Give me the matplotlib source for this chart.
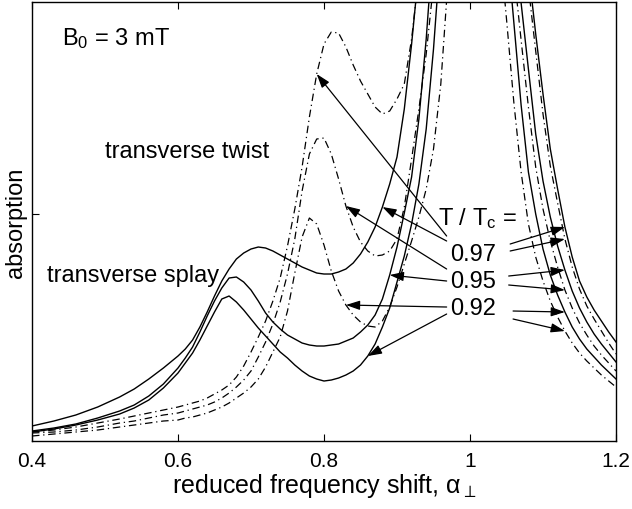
import numpy as np
import matplotlib
matplotlib.use('Agg')
import matplotlib.pyplot as plt

plt.rcParams['font.family'] = ['Liberation Sans', 'DejaVu Sans']
plt.rcParams['mathtext.fontset'] = 'custom'
plt.rcParams['mathtext.rm'] = 'Liberation Sans'
plt.rcParams['mathtext.it'] = 'Liberation Sans'

nan = np.nan

# reduced frequency shift (the grid the curves were read on)
alpha = [0.40, 0.43, 0.46, 0.49, 0.52, 0.54, 0.56, 0.58,
         0.60, 0.61, 0.62, 0.63, 0.64, 0.65, 0.66, 0.67, 0.68, 0.69,
         0.70, 0.71, 0.72, 0.73, 0.74, 0.75, 0.76, 0.77, 0.78, 0.79,
         0.80, 0.81, 0.82, 0.83, 0.84, 0.85, 0.86, 0.87, 0.88, 0.89,
         0.90, 0.91, 0.92, 0.93, 0.94, 0.95, 0.96, 0.97,
         1.04, 1.05, 1.06, 1.07, 1.08, 1.09,
         1.10, 1.11, 1.12, 1.13, 1.14, 1.15, 1.16, 1.17, 1.18, 1.19, 1.20]

# transverse splay (solid), arbitrary units
splay_097 = [0.15, 0.20, 0.26, 0.34, 0.44, 0.52, 0.62, 0.73,
             0.85, 0.92, 1.01, 1.14, 1.29, 1.45, 1.60, 1.72, 1.82, 1.88,
             1.92, 1.94, 1.93, 1.90, 1.86, 1.82, 1.78, 1.74, 1.71, 1.68,
             1.67, 1.67, 1.69, 1.72, 1.78, 1.87, 1.99, 2.14, 2.34, 2.57,
             2.84, 3.32, 3.97, 4.72, nan, nan, nan, nan,
             nan, nan, nan, nan, 4.72, 4.07,
             3.47, 2.92, 2.52, 2.14, 1.84, 1.60, 1.44, 1.31, 1.20, 1.09, 0.99]
splay_095 = [0.10, 0.13, 0.17, 0.23, 0.30, 0.36, 0.45, 0.57,
             0.73, 0.83, 0.94, 1.09, 1.25, 1.40, 1.53, 1.63, 1.64, 1.59,
             1.51, 1.40, 1.28, 1.19, 1.12, 1.06, 1.02, 0.98, 0.96, 0.95,
             0.95, 0.96, 0.97, 1.00, 1.03, 1.09, 1.16, 1.26, 1.42, 1.66,
             1.94, 2.28, 2.64, 3.22, 4.02, 5.02, nan, nan,
             nan, nan, 5.02, 4.38, 3.72, 3.07,
             2.60, 2.24, 1.95, 1.71, 1.50, 1.33, 1.19, 1.07, 0.97, 0.88, 0.79]
splay_092 = [0.09, 0.12, 0.16, 0.21, 0.27, 0.33, 0.41, 0.53,
             0.68, 0.78, 0.88, 1.01, 1.15, 1.29, 1.42, 1.45, 1.39, 1.31,
             1.22, 1.13, 1.05, 0.97, 0.89, 0.83, 0.76, 0.70, 0.65, 0.62,
             0.60, 0.61, 0.63, 0.66, 0.70, 0.76, 0.85, 0.97, 1.14, 1.33,
             1.59, 1.85, 2.17, 2.57, 3.12, 3.92, 4.92, nan,
             nan, 5.02, 4.19, 3.36, 2.69, 2.27,
             1.92, 1.66, 1.46, 1.29, 1.14, 1.02, 0.92, 0.84, 0.76, 0.69, 0.62]

# transverse twist (dash-dot)
twist_097 = [0.09, 0.11, 0.14, 0.18, 0.22, 0.25, 0.28, 0.31,
             0.34, 0.36, 0.38, 0.40, 0.43, 0.47, 0.51, 0.56, 0.64, 0.75,
             0.89, 1.04, 1.20, 1.40, 1.63, 1.95, 2.32, 2.74, 3.24, 3.67,
             3.97, 4.09, 4.08, 3.94, 3.76, 3.60, 3.47, 3.34, 3.27, 3.30,
             3.42, 3.57, 4.02, 4.67, nan, nan, nan, nan,
             nan, nan, nan, nan, 4.54, 3.90,
             3.27, 2.75, 2.38, 2.02, 1.74, 1.52, 1.35, 1.22, 1.10, 0.98, 0.87]
twist_095 = [0.08, 0.09, 0.11, 0.14, 0.18, 0.20, 0.23, 0.26,
             0.28, 0.30, 0.32, 0.34, 0.36, 0.39, 0.43, 0.48, 0.54, 0.61,
             0.70, 0.84, 0.99, 1.17, 1.39, 1.67, 2.02, 2.50, 2.87, 3.02,
             3.03, 2.87, 2.62, 2.35, 2.14, 1.99, 1.90, 1.85, 1.86, 1.90,
             2.02, 2.34, 2.82, 3.32, 3.87, 4.57, nan, nan,
             nan, nan, 4.70, 4.01, 3.34, 2.74,
             2.32, 2.00, 1.74, 1.51, 1.33, 1.18, 1.06, 0.95, 0.86, 0.78, 0.70]
twist_092 = [0.05, 0.07, 0.09, 0.11, 0.14, 0.16, 0.18, 0.20,
             0.21, 0.23, 0.24, 0.26, 0.28, 0.31, 0.34, 0.38, 0.43, 0.48,
             0.54, 0.62, 0.74, 0.89, 1.04, 1.30, 1.68, 2.04, 2.23, 2.17,
             1.96, 1.70, 1.50, 1.36, 1.26, 1.19, 1.15, 1.14, 1.20, 1.34,
             1.54, 1.77, 2.00, 2.24, 2.52, 2.92, 3.57, 4.62,
             5.02, 4.22, 3.39, 2.69, 2.17, 1.84,
             1.60, 1.40, 1.24, 1.10, 0.98, 0.88, 0.80, 0.73, 0.66, 0.60, 0.54]

temps = ['0.97', '0.95', '0.92']
splay = [splay_097, splay_095, splay_092]
twist = [twist_097, twist_095, twist_092]

# where the arrows land on each curve (alpha), left group / right group
twist_arrow_at = [0.79, 0.83, 0.83]
splay_arrow_at = [0.88, 0.89, 0.86]
right_arrow_at = 1.13

# arrow tails next to the temperature labels (data coords)
left_tail_x = 0.968
left_tail_y = [(2.05, 2.00), (1.72, 1.60), (1.34, 1.27)]
right_tail_x = [1.055, 1.053, 1.059]
right_tail_y = [(1.97, 1.90), (1.65, 1.56), (1.30, 1.22)]
label_y = [1.81, 1.54, 1.27]

fig = plt.figure(figsize=(6.32, 5.10), dpi=100)
ax = fig.add_axes([0.0506, 0.1333, 0.9241, 0.8608])

for s, t in zip(splay, twist):
    ax.plot(alpha, s, color='k', lw=1.0)
    ax.plot(alpha, t, color='k', lw=0.9, linestyle=(0, (6, 3, 1, 3)))

ax.set_xlim(0.4, 1.2)
ax.set_ylim(0, 4.39)
ax.set_xticks([0.4, 0.6, 0.8, 1.0, 1.2])
ax.set_xticklabels(['0.4', '0.6', '0.8', '1', '1.2'])
ax.set_yticks([2.27])
ax.set_yticklabels([])
ax.tick_params(direction='in', top=True, length=5, width=0.8, labelsize=15, pad=7)
for sp in ax.spines.values():
    sp.set_linewidth(1.0)

ax.set_xlabel(r'reduced frequency shift, $\alpha_{\perp}$', fontsize=18, labelpad=1)
fig.text(0.0261, 0.5627, 'absorption', fontsize=17, rotation=90,
         ha='center', va='center')

ax.text(0.441, 3.97, r'B$_0$ = 3 mT', fontsize=17, va='baseline', ha='left')
ax.text(0.500, 2.84, 'transverse twist', fontsize=17, va='baseline', ha='left')
ax.text(0.4205, 1.60, 'transverse splay', fontsize=17, va='baseline', ha='left')
ax.text(0.956, 2.17, r'T / T$_c$ =', fontsize=17, va='baseline', ha='left')

aprops = dict(arrowstyle='-|>,head_length=0.6,head_width=0.2', color='k',
              lw=0.9, mutation_scale=14, shrinkA=0, shrinkB=0)

for i, lab in enumerate(temps):
    ax.text(0.9726, label_y[i], lab, fontsize=17, va='baseline', ha='left')
    # left: twist and splay
    k = alpha.index(twist_arrow_at[i])
    ax.annotate('', xy=(alpha[k], twist[i][k]), xytext=(left_tail_x, left_tail_y[i][0]),
                arrowprops=aprops)
    k = alpha.index(splay_arrow_at[i])
    ax.annotate('', xy=(alpha[k], splay[i][k]), xytext=(left_tail_x, left_tail_y[i][1]),
                arrowprops=aprops)
    # right side of the main peak
    k = alpha.index(right_arrow_at)
    ax.annotate('', xy=(alpha[k], splay[i][k]), xytext=(right_tail_x[i], right_tail_y[i][0]),
                arrowprops=aprops)
    ax.annotate('', xy=(alpha[k], twist[i][k]), xytext=(right_tail_x[i], right_tail_y[i][1]),
                arrowprops=aprops)

fig.savefig('out.png', dpi=100)
